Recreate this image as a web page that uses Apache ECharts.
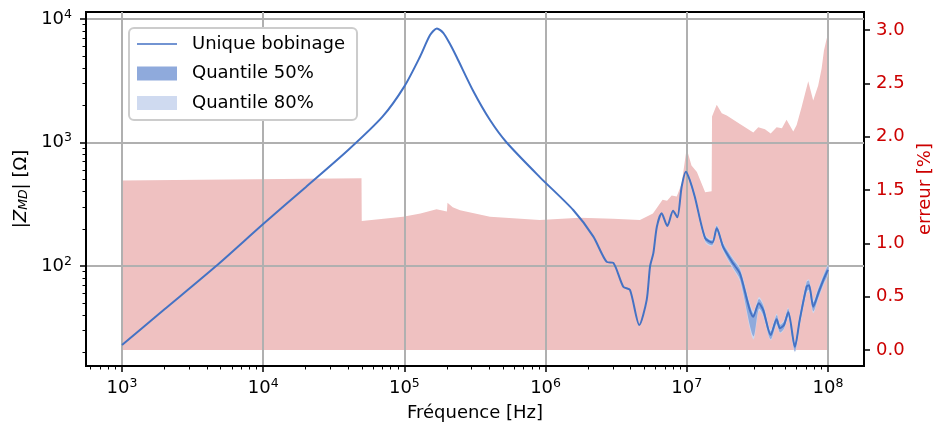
<!DOCTYPE html>
<html>
<head>
<meta charset="utf-8">
<script src="https://cdn.jsdelivr.net/npm/echarts@6/dist/echarts.min.js"></script>
<style>
html, body { margin: 0; background: #fff; }
#chart { width: 935px; height: 428px; }
</style>
</head>
<body>
<div id="chart"></div>
<script>
// impedance, unique bobinage
var freqZ = [1e3, 2e3, 4.64e3, 1e4, 2e4, 4e4, 7e4, 1e5, 1.29e5, 1.52e5, 1.7e5, 1.89e5, 2.1e5, 2.35e5, 3.08e5, 4.04e5, 5.3e5, 9.1e5,
  1.57e6, 2.18e6, 2.71e6, 3.02e6, 3.55e6, 3.96e6, 4.61e6, 5.2e6, 5.5e6, 5.8e6, 6.14e6, 6.64e6, 7.28e6, 8.0e6, 8.57e6, 9.2e6, 9.86e6,
  1.05e7, 1.14e7, 1.35e7, 1.52e7, 1.63e7, 1.81e7, 2.13e7, 2.38e7, 2.96e7, 3.24e7, 3.48e7, 3.93e7, 4.33e7, 4.57e7, 4.88e7, 5.24e7,
  5.83e7, 6.31e7, 7.06e7, 7.35e7, 7.87e7, 8.53e7, 9.27e7, 1e8];
var zUnique = [22.9, 44.6, 100, 219, 435, 870, 1620, 2850, 4950, 7420, 8400, 7700, 6300, 4900, 2600, 1520, 1000, 525,
  284, 173, 108, 106, 68, 64, 33.3, 53, 100, 127, 208, 267, 211, 280, 248, 438, 581,
  497, 364, 168, 155, 202, 143, 105, 87, 38.9, 50, 44, 27.6, 37, 31.3, 33.3, 42.2,
  22.2, 36.6, 68, 70, 46.8, 60, 77, 93];

// quantile bands (only visible above 1e7)
var freqBand = [1.05e7, 1.14e7, 1.35e7, 1.52e7, 1.63e7, 1.81e7, 2.13e7, 2.38e7, 2.96e7, 3.24e7, 3.48e7, 3.93e7, 4.33e7, 4.57e7, 4.88e7, 5.24e7,
  5.83e7, 6.31e7, 7.06e7, 7.35e7, 7.87e7, 8.53e7, 9.27e7, 1e8];
var q50Lo = [480, 350, 160, 148, 192, 135, 97, 78, 27, 45, 40, 25.5, 34, 29, 31, 39, 20.5, 33.5, 62, 64, 43, 55, 71, 86];
var q50Hi = [515, 378, 176, 162, 212, 152, 113, 94, 41, 54, 48, 29.5, 40, 33.5, 35.5, 45, 23.8, 39.5, 74, 76, 51, 65, 83, 100];
var q80Lo = [472, 344, 156, 145, 187, 131, 94, 75, 25.5, 43.5, 39, 25, 33, 28.5, 30.5, 38, 20, 32.5, 60, 62, 41.5, 53.5, 69, 84];
var q80Hi = [522, 384, 180, 165, 216, 156, 116, 97, 43, 56, 49.5, 30.5, 41, 34, 36.5, 46, 24.5, 41, 76, 78, 53, 67, 85, 102];

// erreur [%]
var freqErr = [1e3, 4.97e4, 4.99e4, 9.78e4, 1.3e5, 1.69e5, 2.0e5, 2.02e5, 2.2e5, 2.48e5, 4.04e5, 9.1e5, 1.75e6, 3.0e6, 4.66e6,
  5.76e6, 6.74e6, 7.25e6, 7.82e6, 8.49e6, 9.2e6, 9.98e6, 1.08e7, 1.18e7, 1.35e7, 1.50e7, 1.51e7, 1.63e7, 1.77e7, 1.92e7,
  2.38e7, 2.96e7, 3.21e7, 3.58e7, 3.93e7, 4.33e7, 4.72e7, 5.09e7, 5.68e7, 6.0e7, 6.51e7, 7.25e7, 7.86e7, 8.53e7, 9.02e7,
  9.37e7, 9.79e7, 1e8];
var erreur = [1.59, 1.61, 1.21, 1.25, 1.28, 1.32, 1.30, 1.38, 1.34, 1.31, 1.25, 1.22, 1.24, 1.23, 1.22,
  1.28, 1.41, 1.40, 1.45, 1.44, 1.56, 1.89, 1.73, 1.67, 1.48, 1.49, 2.19, 2.30, 2.22, 2.20,
  2.12, 2.04, 2.09, 2.07, 2.03, 2.09, 2.08, 2.16, 2.05, 2.11, 2.28, 2.52, 2.34, 2.48, 2.64,
  2.81, 2.92, 2.95];

// ticks
var xTicks = [1e3, 1e4, 1e5, 1e6, 1e7, 1e8];
var zTicks = [1e2, 1e3, 1e4];
var errTicks = [0, 0.5, 1.0, 1.5, 2.0, 2.5, 3.0];

var xMin = 556, xMax = 1.8e8;
var zMin = 15.5, zMax = 11400;
var font = 'DejaVu Sans';
var red = '#cc0000';
var blue = '#4472c4';

// petites graduations 2..9 x 10^n
function minorTicks(lo, hi) {
    var out = [];
    for (var d = Math.floor(Math.log10(lo)); d <= Math.ceil(Math.log10(hi)); d++) {
        for (var k = 2; k <= 9; k++) {
            var v = k * Math.pow(10, d);
            if (v > lo && v < hi) out.push(v);
        }
    }
    return out;
}

function pow10(v) {
    return '{b|10}{s|' + Math.round(Math.log10(v)) + '}';
}
var supRich = {
    b: { fontSize: 18, fontFamily: font, color: '#000', lineHeight: 22 },
    s: { fontSize: 12.5, fontFamily: font, color: '#000', verticalAlign: 'top', lineHeight: 14 }
};

function pairs(xs, ys) {
    return xs.map(function (x, i) { return [x, ys[i]]; });
}

function band(lo, hi, color, name) {
    return {
        name: name,
        type: 'custom',
        xAxisIndex: 0,
        yAxisIndex: 0,
        z: 2,
        itemStyle: { color: color },
        data: [[freqBand[0], lo[0]]],
        renderItem: function (params, api) {
            var pts = [];
            for (var i = 0; i < freqBand.length; i++) pts.push(api.coord([freqBand[i], hi[i]]));
            for (var j = freqBand.length - 1; j >= 0; j--) pts.push(api.coord([freqBand[j], lo[j]]));
            return { type: 'polygon', shape: { points: pts, smooth: 0.3 }, style: { fill: color } };
        }
    };
}

// legend line: thin bar, slivers at top/bottom keep the 14px box
var lineIcon = 'path://M0,0L40,0L40,0.01L0,0.01Z M0,6.3L40,6.3L40,7.7L0,7.7Z M0,13.99L40,13.99L40,14L0,14Z';

var minorAxisTick = { length: 3.5, lineStyle: { color: '#000', width: 1 } };
var gridLine = { show: true, lineStyle: { color: '#b0b0b0', width: 2 } };

var chart = echarts.init(document.getElementById('chart'));
chart.setOption({
    animation: false,
    grid: { left: 86, right: 71, top: 12, bottom: 62, outerBoundsMode: 'none', show: true, borderColor: '#000', borderWidth: 2 },
    legend: {
        orient: 'vertical',
        left: 129,
        top: 28,
        itemWidth: 40,
        itemHeight: 14,
        itemGap: 9.5,
        padding: [6, 12, 7, 8],
        borderColor: '#cccccc',
        borderWidth: 2,
        borderRadius: 5,
        backgroundColor: '#fff',
        selectedMode: false,
        textStyle: { fontSize: 18, fontFamily: font, color: '#000', lineHeight: 20, padding: [0, 0, 0, 10] },
        data: [
            { name: 'Unique bobinage', icon: lineIcon, itemStyle: { color: blue } },
            { name: 'Quantile 50%', icon: 'rect' },
            { name: 'Quantile 80%', icon: 'rect' }
        ]
    },
    xAxis: [{
        type: 'log', min: xMin, max: xMax, z: 1,
        name: 'Fréquence [Hz]', nameLocation: 'middle', nameGap: 38,
        nameTextStyle: { fontSize: 18, fontFamily: font, color: '#000' },
        axisLine: { onZero: false, lineStyle: { color: '#000', width: 2 } },
        axisTick: { customValues: xTicks, length: 6, lineStyle: { color: '#000', width: 1.5 } },
        axisLabel: { customValues: xTicks, formatter: pow10, rich: supRich, margin: 11 },
        splitLine: gridLine
    }, {
        type: 'log', min: xMin, max: xMax, position: 'bottom',
        axisLine: { show: false, onZero: false }, axisLabel: { show: false }, splitLine: { show: false },
        axisTick: Object.assign({ customValues: minorTicks(xMin, xMax) }, minorAxisTick)
    }],
    yAxis: [{
        type: 'log', min: zMin, max: zMax, position: 'left', z: 1,
        name: '|{i|Z}{sub|MD}| [Ω]', nameLocation: 'middle', nameGap: 48, nameRotate: 90,
        nameTextStyle: {
            fontSize: 18, fontFamily: font, color: '#000',
            rich: {
                i: { fontSize: 18, fontFamily: font, fontStyle: 'italic', color: '#000' },
                sub: { fontSize: 12.5, fontFamily: font, fontStyle: 'italic', color: '#000', verticalAlign: 'bottom' }
            }
        },
        axisLine: { onZero: false, lineStyle: { color: '#000', width: 2 } },
        axisTick: { customValues: zTicks, length: 6, lineStyle: { color: '#000', width: 1.5 } },
        axisLabel: { customValues: zTicks, formatter: pow10, rich: supRich, margin: 14 },
        splitLine: gridLine
    }, {
        type: 'value', min: -0.15, max: 3.17, position: 'right',
        name: 'erreur [%]', nameLocation: 'middle', nameGap: 52, nameRotate: 90,
        nameTextStyle: { fontSize: 18, fontFamily: font, color: red },
        axisLine: { onZero: false, lineStyle: { color: '#000', width: 2 } },
        axisTick: { customValues: errTicks, length: 6, lineStyle: { color: '#000', width: 1.5 } },
        axisLabel: {
            customValues: errTicks, margin: 12, fontSize: 18, fontFamily: font, color: red,
            formatter: function (v) { return v.toFixed(1); }
        },
        splitLine: { show: false }
    }, {
        type: 'log', min: zMin, max: zMax, position: 'left',
        axisLine: { show: false, onZero: false }, axisLabel: { show: false }, splitLine: { show: false },
        axisTick: Object.assign({ customValues: minorTicks(zMin, zMax) }, minorAxisTick)
    }],
    series: [{
        name: 'erreur',
        type: 'line',
        xAxisIndex: 0,
        yAxisIndex: 1,
        z: 0,
        symbol: 'none',
        lineStyle: { width: 0 },
        areaStyle: { color: '#efc1c1', opacity: 1 },
        data: pairs(freqErr, erreur)
    },
    band(q80Lo, q80Hi, '#cfdaf0', 'Quantile 80%'),
    band(q50Lo, q50Hi, '#8faadc', 'Quantile 50%'),
    {
        name: 'Unique bobinage',
        type: 'line',
        xAxisIndex: 0,
        yAxisIndex: 0,
        z: 3,
        symbol: 'none',
        smooth: 0.25,
        lineStyle: { color: blue, width: 2 },
        itemStyle: { color: blue },
        data: pairs(freqZ, zUnique)
    }]
});
</script>
</body>
</html>
